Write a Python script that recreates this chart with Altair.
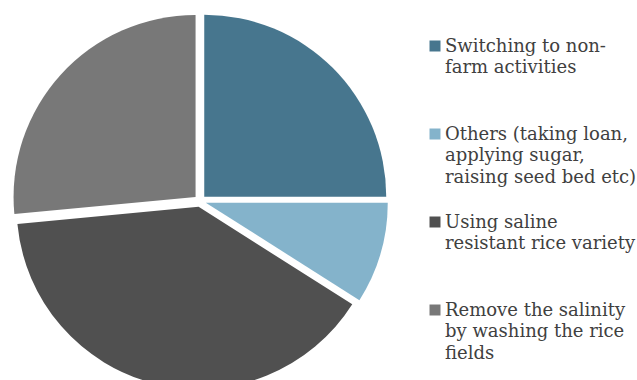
import altair as alt
import pandas as pd

categories = [
    "Switching to non-|farm activities|",
    "Others (taking loan,|applying sugar,|raising seed bed etc)",
    "Using saline|resistant rice variety|",
    "Remove the salinity|by washing the rice|fields",
]
values = [25.0, 9.0, 39.5, 26.5]
colors = ["#47768E", "#84B3CB", "#505050", "#787878"]

df = pd.DataFrame({"category": categories, "value": values, "order": list(range(len(values)))})

CX, CY, R, EXPLODE = 200, 201, 182, 6

chart = (
    alt.Chart(df)
    .transform_window(cum="sum(value)", sort=[alt.SortField("order")], frame=[None, 0])
    .transform_joinaggregate(total="sum(value)")
    .transform_calculate(
        a1="datum.cum / datum.total * 2 * PI",
        a0="(datum.cum - datum.value) / datum.total * 2 * PI",
    )
    .transform_calculate(mid="(datum.a0 + datum.a1) / 2")
    .transform_calculate(
        px=f"{CX} + {EXPLODE} * sin(datum.mid)",
        py=f"{CY} - {EXPLODE} * cos(datum.mid)",
    )
    .mark_arc(radius=R)
    .encode(
        theta=alt.Theta("a0:Q", scale=None),
        theta2="a1:Q",
        x=alt.X("px:Q", scale=None, axis=None),
        y=alt.Y("py:Q", scale=None, axis=None),
        color=alt.Color(
            "category:N",
            scale=alt.Scale(domain=categories, range=colors),
            sort=categories,
            legend=alt.Legend(
                title=None,
                orient="none",
                legendX=426,
                legendY=37,
                symbolType="square",
                symbolSize=121,
                symbolStrokeWidth=0,
                labelExpr="split(datum.label, '|')",
                labelFont="DejaVu Serif",
                labelFontSize=18,
                labelColor="#404040",
                labelLimit=300,
                labelOffset=1,
                labelBaseline="top",
                rowPadding=26,
            ),
        ),
    )
    .properties(
        width=637,
        height=380,
        autosize=alt.AutoSizeParams(type="none"),
        padding=0,
    )
    .configure(
        style={"guide-label": {"lineHeight": 21.5, "dy": -8.5}},
        view={"strokeWidth": 0},
    )
)

chart.save("out.html", embed_options={"renderer": "svg", "actions": False})
